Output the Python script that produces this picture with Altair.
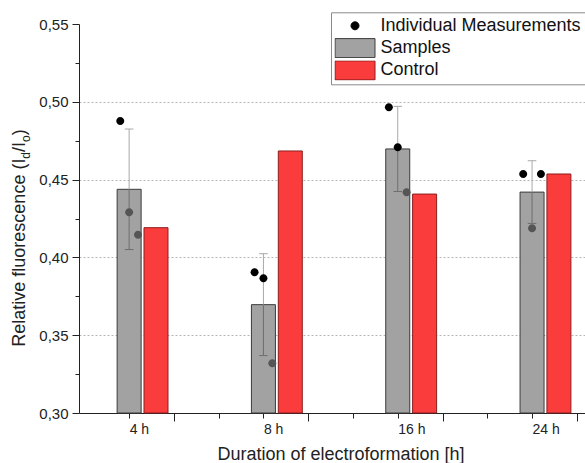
import json

import altair as alt
import pandas as pd

FONT = "Liberation Sans"

# Duration groups on the x axis (numeric position 1..4)
GROUP_LABELS = ["4 h", "8 h", "16 h", "24 h"]

# Individual measurements per group, listed by their place in the dot cluster
MEAS_LEFT = [0.4877, 0.3904, 0.4965, 0.4536]
MEAS_MID = [0.4290, 0.3866, 0.4708, 0.4187]
MEAS_RIGHT = [0.4146, 0.3319, 0.4418, 0.4536]

# Control value per group
CONTROL = [0.4191, 0.4684, 0.4407, 0.4536]

SERIES = ["Individual Measurements", "Samples", "Control"]
FILLS = ["#000000", "#a2a2a2", "#fa3c3c"]
STROKES = ["#000000", "#3c3c3c", "#8c1e1e"]
# small dot and wide swatch symbols (custom paths in the unit square)
SHAPES = [
    "M0,-0.2A0.2,0.2,0,1,1,0,0.2A0.2,0.2,0,1,1,0,-0.2Z",
    "M-1,-0.475H1V0.475H-1Z",
    "M-1,-0.475H1V0.475H-1Z",
]

Y_MIN, Y_MAX = 0.30, 0.55
BAR_SHIFT = 0.1      # dodge of samples / control bars from the group centre
DOT_STEP = 0.066     # horizontal spread of the individual dots
CAP_HALF = 0.032     # half width of the error-bar caps

rows = []
for gi in range(len(GROUP_LABELS)):
    for slot, arr in zip((-1, 0, 1), (MEAS_LEFT, MEAS_MID, MEAS_RIGHT)):
        rows.append({"g": gi + 1, "slot": slot, "value": arr[gi]})
meas = pd.DataFrame(rows)
ctrl = pd.DataFrame({"g": list(range(1, len(CONTROL) + 1)), "value": CONTROL})

# ---- scales and axes -------------------------------------------------------
x_scale = alt.Scale(domain=[0.564, 4.257], nice=False, zero=False)
y_scale = alt.Scale(domain=[Y_MIN, Y_MAX], nice=False, zero=False)

x_ticks = [round(0.9 + k / 3, 4) for k in range(11)]
is_group_tick = "abs(datum.value + 0.1 - round(datum.value + 0.1)) < 0.01"
is_mid_tick = "abs(datum.value - 0.2333 - round(datum.value - 0.2333)) < 0.01"
x_axis = alt.Axis(
    values=x_ticks,
    labelExpr=f"{is_group_tick} ? {json.dumps(GROUP_LABELS)}[round(datum.value + 0.1) - 1] : ''",
    labelAlign="left",
    labelFlush=False,
    labelOverlap=False,
    labelFontSize=14,
    labelPadding=4,
    tickSize={"condition": {"test": is_mid_tick, "value": 8}, "value": 5},
    grid=False,
    title="Duration of electroformation [h]",
    titleFontSize=18,
    titleFontWeight="normal",
    titleX=261.5,
    titleY=46,
    titleAlign="center",
    titleBaseline="alphabetic",
)

y_ticks = [round(Y_MIN + k * 0.025, 3) for k in range(11)]
is_major = "abs(datum.value * 20 - round(datum.value * 20)) < 0.01"
y_axis = alt.Axis(
    values=y_ticks,
    labelExpr=f"{is_major} ? replace(format(datum.value, '.2f'), '.', ',') : ''",
    labelFontSize=15,
    labelPadding=4,
    labelOverlap=False,
    labelFlush=False,
    tickSize={"condition": {"test": is_major, "value": 7}, "value": 4},
    grid=True,
    gridColor="#b4b4b4",
    gridDash=[2, 2],
    gridOpacity={
        "condition": {"test": f"{is_major} && datum.value > 0.32 && datum.value < 0.53", "value": 1},
        "value": 0,
    },
    title=None,
)

legend = alt.Legend(
    title=None,
    orient="none",
    legendX=252,
    legendY=-11.7,
    symbolSize=1600,
    symbolStrokeWidth=1,
    symbolOpacity=1,
    clipHeight=20,
    labelFont=FONT,
    labelFontSize=18,
    labelColor="#111111",
    labelOffset=5,
    labelLimit=400,
    padding=3.5,
    rowPadding=2.3,
    strokeColor="#8a8a8a",
    fillColor="white",
)

color_enc = alt.Color("series:N", scale=alt.Scale(domain=SERIES, range=FILLS), legend=legend)
stroke_enc = alt.Stroke("series:N", scale=alt.Scale(domain=SERIES, range=STROKES), legend=legend)
shape_enc = alt.Shape("series:N", scale=alt.Scale(domain=SERIES, range=SHAPES), legend=legend)


def X(field):
    return alt.X(field, type="quantitative", scale=x_scale, axis=x_axis)


def Y(field):
    return alt.Y(field, type="quantitative", scale=y_scale, axis=y_axis)


# ---- bars ------------------------------------------------------------------
sample_bars = (
    alt.Chart(meas)
    .transform_aggregate(mean="mean(value)", groupby=["g"])
    .transform_calculate(xpos=f"datum.g - {BAR_SHIFT}", series='"Samples"')
    .mark_bar(size=24, strokeWidth=1)
    .encode(x=X("xpos"), y=Y("mean"), y2=alt.datum(Y_MIN), color=color_enc, stroke=stroke_enc)
)

control_bars = (
    alt.Chart(ctrl)
    .transform_calculate(xpos=f"datum.g + {BAR_SHIFT}", series='"Control"')
    .mark_bar(size=24, strokeWidth=1)
    .encode(x=X("xpos"), y=Y("value"), y2=alt.datum(Y_MIN), color=color_enc, stroke=stroke_enc)
)

# ---- error bars (mean ± standard deviation of the measurements) ------------
err = (
    alt.Chart(meas)
    .transform_aggregate(mean="mean(value)", sd="stdev(value)", groupby=["g"])
    .transform_calculate(
        xpos=f"datum.g - {BAR_SHIFT}",
        lo="datum.mean - datum.sd",
        hi="datum.mean + datum.sd",
        capL=f"datum.g - {BAR_SHIFT} - {CAP_HALF}",
        capR=f"datum.g - {BAR_SHIFT} + {CAP_HALF}",
    )
)
LIGHT, DARK = "#a8a8a8", "#6e6e6e"
err_upper = err.mark_rule(color=LIGHT, strokeWidth=1).encode(x=X("xpos"), y=Y("mean"), y2="hi:Q")
err_lower = err.mark_rule(color=DARK, strokeWidth=1).encode(x=X("xpos"), y=Y("lo"), y2="mean:Q")
cap_top = err.mark_rule(color=LIGHT, strokeWidth=1).encode(x=X("capL"), x2="capR:Q", y=Y("hi"))
cap_bot = err.mark_rule(color=DARK, strokeWidth=1).encode(x=X("capL"), x2="capR:Q", y=Y("lo"))

# ---- individual measurements ----------------------------------------------
dots = (
    alt.Chart(meas)
    .transform_joinaggregate(mean="mean(value)", groupby=["g"])
    .transform_calculate(
        xpos=f"datum.g - {BAR_SHIFT} + datum.slot * {DOT_STEP}",
        series='"Individual Measurements"',
    )
    .mark_point(filled=True, size=1600, opacity=1, strokeWidth=0)
    .encode(
        x=X("xpos"),
        y=Y("value"),
        shape=shape_enc,
        color=alt.condition("datum.value < datum.mean", alt.value("#555555"), color_enc),
    )
)

# ---- y-axis title with subscripts, set as rotated text pieces ---------------
ADV = {"R": 722, "e": 556, "l": 222, "a": 556, "t": 278, "i": 222, "v": 500, " ": 278,
       "f": 278, "u": 556, "o": 556, "r": 333, "s": 500, "c": 500, "n": 556, "(": 333,
       "I": 278, "d": 556, "/": 278, ")": 333}
TITLE_PIECES = [("Relative fluorescence (I", 18, 0), ("d", 12, 5), ("/I", 18, 0), ("o", 12, 5), (")", 18, 0)]
title_layers = []
pos = 322.7
for txt, fs, shift in TITLE_PIECES:
    title_layers.append(
        alt.Chart(pd.DataFrame({"label": [txt]}))
        .mark_text(angle=270, align="left", baseline="alphabetic", fontSize=fs, font=FONT, color="#222222")
        .encode(text="label:N", x=alt.value(-54 + shift), y=alt.value(pos))
    )
    pos -= sum(ADV[ch] for ch in txt) * fs / 1000

chart = (
    alt.layer(sample_bars, control_bars, err_upper, err_lower, cap_top, cap_bot, dots, *title_layers)
    .properties(
        width=506,
        height=389,
        autosize=alt.AutoSizeParams(type="none"),
        padding={"left": 79, "top": 24, "right": 0, "bottom": 50},
        background="white",
    )
    .configure_view(stroke=None)
    .configure_axis(
        domainColor="#222222",
        tickColor="#222222",
        labelColor="#222222",
        titleColor="#222222",
        labelFont=FONT,
        titleFont=FONT,
    )
)

chart.save("out.html", embed_options={"renderer": "svg", "actions": False})
